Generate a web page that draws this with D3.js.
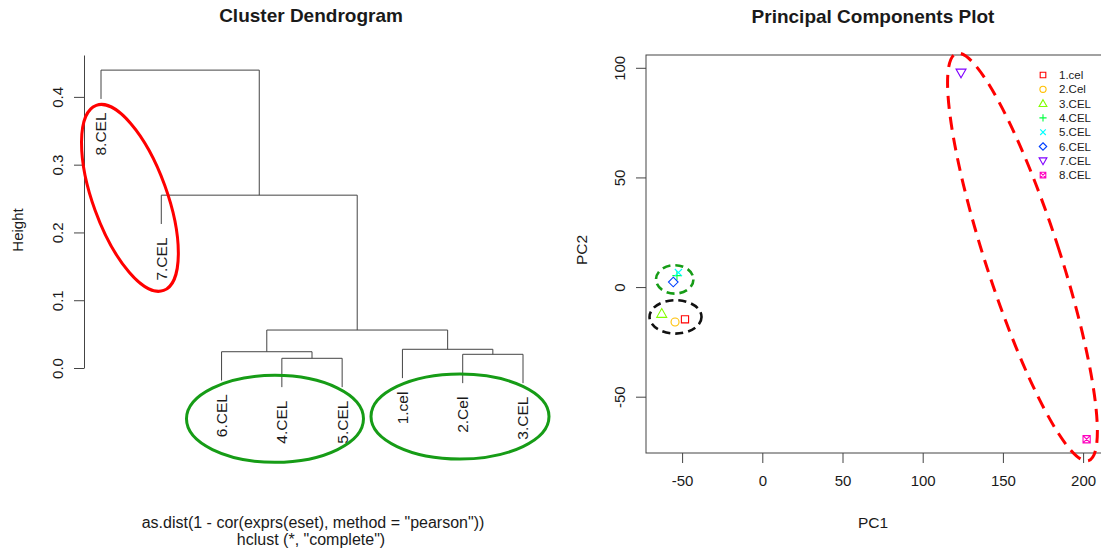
<html>
<head>
<meta charset="utf-8">
<script src="https://d3js.org/d3.v7.min.js"></script>
<style>
body { margin: 0; background: #fff; }
text { font-family: "Liberation Sans", Arial, sans-serif; fill: #1a1a1a; }
</style>
</head>
<body>
<div id="chart"></div>
<script>

// dendrogram data (hclust merge matrix, negative = sample number)
var leafOrder = ["8.CEL", "7.CEL", "6.CEL", "4.CEL", "5.CEL", "1.cel", "2.Cel", "3.CEL"];
var mergeLeft = [-4, -2, -6, -1, 3, -7, -8];
var mergeRight = [-5, -3, 1, 2, 4, 5, 6];
var mergeHeight = [0.0143, 0.0202, 0.024, 0.0276, 0.056, 0.255, 0.4395];
var heightTicks = [0, 0.1, 0.2, 0.3, 0.4];

// PCA data
var samples = ["1.cel", "2.Cel", "3.CEL", "4.CEL", "5.CEL", "6.CEL", "7.CEL", "8.CEL"];
var pc1 = [-48.2, -54.4, -62.7, -53.2, -52.3, -55.5, 123.9, 202.2];
var pc2 = [-14.7, -15.9, -12.1, 5.2, 6.6, 2.3, 97.7, -69.4];
var sampleColors = ["#FF0000", "#FFBF00", "#80FF00", "#00FF40", "#00FFFF", "#0040FF", "#8000FF", "#FF00BF"];
var sampleShapes = ["square", "circle", "triangle", "plus", "cross", "diamond", "triangleDown", "squareCross"];
var pc1Ticks = [-50, 0, 50, 100, 150, 200];
var pc2Ticks = [-50, 0, 50, 100];

// hand drawn rings (centre in data units)
var dendroRings = [
  {cx: 1.48, cy: 0.251, rx: 37, ry: 98.5, rot: -20, color: "#ff0000", dash: null},
  {cx: 3.886, cy: -0.075, rx: 88.5, ry: 43.5, rot: 0, color: "#169c16", dash: null},
  {cx: 6.955, cy: -0.0716, rx: 89, ry: 42.5, rot: 0, color: "#169c16", dash: null}
];
var pcaRings = [
  {cx: 162.2, cy: 13.7, rx: 37, ry: 214, rot: -18, color: "#ff0000", dash: "13,8", w: 3},
  {cx: -54.6, cy: 3.5, rx: 18.7, ry: 14.2, rot: 0, color: "#169c16", dash: "8,5", w: 2.6},
  {cx: -54.1, cy: -13.6, rx: 26, ry: 16.7, rot: 0, color: "#111", dash: "8,5", w: 2.6}
];

var svg = d3.select("#chart").append("svg")
  .attr("width", 1101)
  .attr("height", 552);

/* ---------- Cluster Dendrogram ---------- */

var x = d3.scaleLinear().domain([1, 8]).range([101, 523]);
var y = d3.scaleLinear().domain([0, 0.4618]).range([368, 55]);

var hang = 0.1 * (d3.max(mergeHeight) - d3.min(mergeHeight));
var nodeX = [];
function childX(c) { return c < 0 ? leafOrder.indexOf(samples[-c - 1]) + 1 : nodeX[c - 1]; }
function childH(c, h) { return c < 0 ? h - hang : mergeHeight[c - 1]; }
mergeHeight.forEach(function(h, i) {
  nodeX[i] = (childX(mergeLeft[i]) + childX(mergeRight[i])) / 2;
});

var left = svg.append("g");

left.selectAll(".branch")
  .data(mergeHeight)
  .enter()
  .append("path")
    .attr("class", "branch")
    .attr("fill", "none")
    .attr("stroke", "#444")
    .attr("stroke-width", 1)
    .attr("d", function(h, i) {
      var p = d3.path();
      var l = mergeLeft[i], r = mergeRight[i];
      p.moveTo(x(childX(l)), y(childH(l, h)));
      p.lineTo(x(childX(l)), y(h));
      p.lineTo(x(childX(r)), y(h));
      p.lineTo(x(childX(r)), y(childH(r, h)));
      return p.toString();
    });

// leaf labels
var leaves = [];
mergeHeight.forEach(function(h, i) {
  [mergeLeft[i], mergeRight[i]].forEach(function(c) {
    if (c < 0) leaves.push({name: samples[-c - 1], pos: childX(c), h: h - hang});
  });
});

left.selectAll(".leaf")
  .data(leaves)
  .enter()
  .append("text")
    .attr("class", "leaf")
    .attr("transform", function(d) { return "translate(" + x(d.pos) + "," + (y(d.h) + 13.5) + ") rotate(-90)"; })
    .attr("text-anchor", "end")
    .attr("dy", "0.35em")
    .style("font-size", "15.5px")
    .text(function(d) { return d.name; });

var yAxis = d3.axisLeft(y)
  .tickValues(heightTicks)
  .tickFormat(d3.format(".1f"))
  .tickSize(10)
  .tickSizeOuter(0);

var gy = left.append("g")
  .attr("transform", "translate(84,0)")
  .call(yAxis);
gy.select(".domain").attr("stroke", "#444");
gy.selectAll(".tick line").attr("stroke", "#444");
gy.selectAll(".tick text")
  .attr("x", 0)
  .attr("y", -21)
  .attr("dy", 0)
  .attr("transform", "rotate(-90)")
  .attr("text-anchor", "middle")
  .style("font-size", "15px")
  .style("font-family", "'Liberation Sans', Arial, sans-serif")
  .attr("fill", "#1a1a1a");

left.append("text")
  .attr("transform", "translate(23,230) rotate(-90)")
  .attr("text-anchor", "middle")
  .style("font-size", "15px")
  .text("Height");

left.append("text")
  .attr("x", 311)
  .attr("y", 22)
  .attr("text-anchor", "middle")
  .style("font-size", "19px")
  .style("font-weight", "bold")
  .text("Cluster Dendrogram");

left.append("text")
  .attr("x", 313)
  .attr("y", 528)
  .attr("text-anchor", "middle")
  .style("font-size", "16px")
  .text("as.dist(1 - cor(exprs(eset), method = \"pearson\"))");

left.append("text")
  .attr("x", 311)
  .attr("y", 545)
  .attr("text-anchor", "middle")
  .style("font-size", "16px")
  .text("hclust (*, \"complete\")");

left.selectAll(".ring")
  .data(dendroRings)
  .enter()
  .append("ellipse")
    .attr("class", "ring")
    .attr("transform", function(d) { return "translate(" + x(d.cx) + "," + y(d.cy) + ") rotate(" + d.rot + ")"; })
    .attr("rx", function(d) { return d.rx; })
    .attr("ry", function(d) { return d.ry; })
    .attr("fill", "none")
    .attr("stroke", function(d) { return d.color; })
    .attr("stroke-width", 3);

/* ---------- Principal Components Plot ---------- */

var px = d3.scaleLinear().domain([-50, 200]).range([682.1, 1083.1]);
var py = d3.scaleLinear().domain([-50, 100]).range([396.7, 67.8]);
var plainNum = function(d) { return String(d); };

var right = svg.append("g");

right.append("rect")
  .attr("x", 646)
  .attr("y", 55)
  .attr("width", 457)
  .attr("height", 398)
  .attr("fill", "none")
  .attr("stroke", "#444")
  .attr("stroke-width", 1);

var gx2 = right.append("g")
  .attr("transform", "translate(0,453)")
  .call(d3.axisBottom(px).tickValues(pc1Ticks).tickFormat(plainNum).tickSize(10).tickSizeOuter(0).tickPadding(12));
gx2.select(".domain").remove();
gx2.selectAll(".tick line").attr("stroke", "#444");
gx2.selectAll(".tick text")
  .style("font-size", "15px")
  .style("font-family", "'Liberation Sans', Arial, sans-serif")
  .attr("fill", "#1a1a1a");

var gy2 = right.append("g")
  .attr("transform", "translate(646,0)")
  .call(d3.axisLeft(py).tickValues(pc2Ticks).tickFormat(plainNum).tickSize(10).tickSizeOuter(0));
gy2.select(".domain").remove();
gy2.selectAll(".tick line").attr("stroke", "#444");
gy2.selectAll(".tick text")
  .attr("x", 0)
  .attr("y", -21)
  .attr("dy", 0)
  .attr("transform", "rotate(-90)")
  .attr("text-anchor", "middle")
  .style("font-size", "15px")
  .style("font-family", "'Liberation Sans', Arial, sans-serif")
  .attr("fill", "#1a1a1a");

right.append("text")
  .attr("x", 873)
  .attr("y", 528)
  .attr("text-anchor", "middle")
  .style("font-size", "15.5px")
  .text("PC1");

right.append("text")
  .attr("transform", "translate(587,250) rotate(-90)")
  .attr("text-anchor", "middle")
  .style("font-size", "15.5px")
  .text("PC2");

right.append("text")
  .attr("x", 873)
  .attr("y", 23)
  .attr("text-anchor", "middle")
  .style("font-size", "19px")
  .style("font-weight", "bold")
  .text("Principal Components Plot");

// R-like open plotting symbols
function shapePath(type, k) {
  var p = d3.path(), r;
  if (type == "square" || type == "squareCross") {
    r = 3.6 * k;
    p.rect(-r, -r, 2 * r, 2 * r);
    if (type == "squareCross") {
      p.moveTo(-r, -r); p.lineTo(r, r);
      p.moveTo(-r, r); p.lineTo(r, -r);
    }
  } else if (type == "circle") {
    r = 4 * k;
    p.moveTo(r, 0); p.arc(0, 0, r, 0, 2 * Math.PI);
  } else if (type == "triangle") {
    r = 5 * k;
    p.moveTo(0, -r); p.lineTo(r, r * 0.75); p.lineTo(-r, r * 0.75); p.closePath();
  } else if (type == "triangleDown") {
    r = 5 * k;
    p.moveTo(0, r); p.lineTo(r, -r * 0.75); p.lineTo(-r, -r * 0.75); p.closePath();
  } else if (type == "plus") {
    r = 4.6 * k;
    p.moveTo(-r, 0); p.lineTo(r, 0);
    p.moveTo(0, -r); p.lineTo(0, r);
  } else if (type == "cross") {
    r = 3.6 * k;
    p.moveTo(-r, -r); p.lineTo(r, r);
    p.moveTo(-r, r); p.lineTo(r, -r);
  } else if (type == "diamond") {
    r = 4.8 * k;
    p.moveTo(0, -r); p.lineTo(r, 0); p.lineTo(0, r); p.lineTo(-r, 0); p.closePath();
  }
  return p.toString();
}

right.selectAll(".pt")
  .data(samples)
  .enter()
  .append("path")
    .attr("class", "pt")
    .attr("transform", function(d, i) { return "translate(" + px(pc1[i]) + "," + py(pc2[i]) + ")"; })
    .attr("d", function(d, i) { return shapePath(sampleShapes[i], 1); })
    .attr("fill", "none")
    .attr("stroke", function(d, i) { return sampleColors[i]; })
    .attr("stroke-width", 1.1);

// legend
var legend = right.selectAll(".lg")
  .data(samples)
  .enter()
  .append("g")
    .attr("class", "lg")
    .attr("transform", function(d, i) { return "translate(1043," + (75 + i * 14.3) + ")"; });

legend.append("path")
  .attr("d", function(d, i) { return shapePath(sampleShapes[i], 0.78); })
  .attr("fill", "none")
  .attr("stroke", function(d, i) { return sampleColors[i]; })
  .attr("stroke-width", 1.1);

legend.append("text")
  .attr("x", 16)
  .attr("dy", "0.36em")
  .style("font-size", "11.5px")
  .text(function(d) { return d; });

right.selectAll(".ring")
  .data(pcaRings)
  .enter()
  .append("ellipse")
    .attr("class", "ring")
    .attr("transform", function(d) { return "translate(" + px(d.cx) + "," + py(d.cy) + ") rotate(" + d.rot + ")"; })
    .attr("rx", function(d) { return d.rx; })
    .attr("ry", function(d) { return d.ry; })
    .attr("fill", "none")
    .attr("stroke", function(d) { return d.color; })
    .attr("stroke-width", function(d) { return d.w; })
    .attr("stroke-dasharray", function(d) { return d.dash; });

</script>
</body>
</html>
